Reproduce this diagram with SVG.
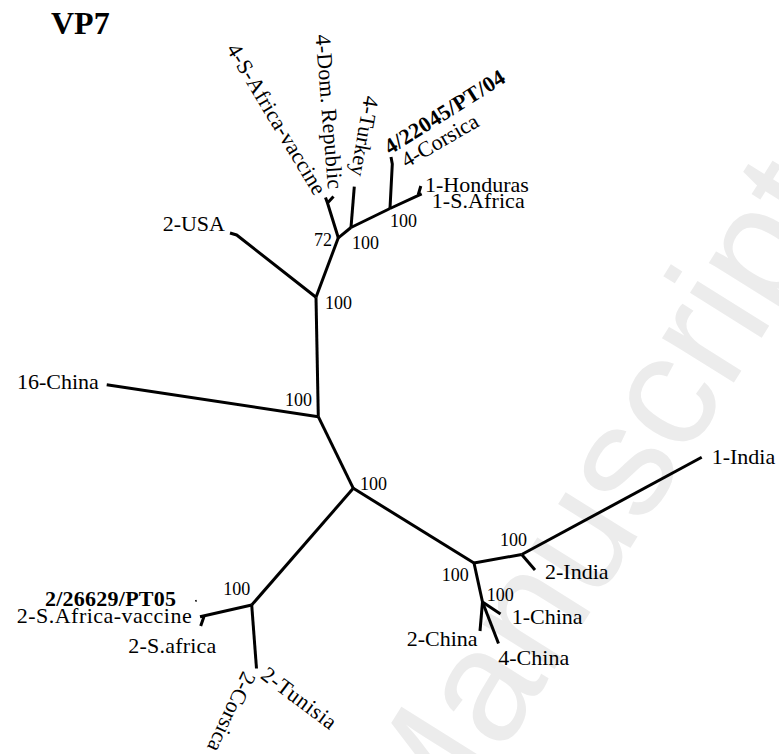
<svg xmlns="http://www.w3.org/2000/svg" width="779" height="754" viewBox="0 0 779 754">
<style>
.br{fill:none;stroke:#000;stroke-width:3;stroke-linejoin:round;stroke-linecap:butt}
.lab{font-family:"Liberation Serif","Times New Roman",serif;font-size:22px;fill:#000}
.bs{font-family:"Liberation Serif","Times New Roman",serif;font-size:18px;fill:#000}
.b{font-weight:bold}
.wm{font-family:"Liberation Sans",Arial,sans-serif;font-size:160px;fill:#ececec}
</style>
<rect width="779" height="754" fill="#fff"/>
<g id="watermark"><text class="wm" transform="translate(431,867) rotate(-58)">Manuscript</text></g>
<g id="title"><text class="lab b" x="51" y="34" style="font-size:32px">VP7</text></g>
<g id="branches">
<path class="br" d="M230,233 L236.7,235 L316,297.3"/>
<path class="br" d="M316,297.3 L338.3,237.8"/>
<path class="br" d="M338.3,237.8 L327.5,203 L325.5,197.5 M327.5,203 L333.5,196.5"/>
<path class="br" d="M338.3,237.8 L351,227.5"/>
<path class="br" d="M351,227.5 L354.3,186.7"/>
<path class="br" d="M351,227.5 L390,208.5"/>
<path class="br" d="M390,208.5 L392.3,164 L391,157"/>
<path class="br" d="M390,208.5 L421.7,193.8 M418.3,194.5 L420.8,186"/>
<path class="br" d="M316,297.3 L318.3,416.7"/>
<path class="br" d="M106.7,384.7 L318.3,416.7"/>
<path class="br" d="M318.3,416.7 L353.3,488.3"/>
<path class="br" d="M353.3,488.3 L251.7,605"/>
<path class="br" d="M251.7,605 L200,616.7 M204,616.5 L200.7,626"/>
<path class="br" d="M195.6,600 L196.4,601.6" style="stroke-width:1.5"/>
<path class="br" d="M251.7,605 L256.5,668.5"/>
<path class="br" d="M353.3,488.3 L474,563"/>
<path class="br" d="M474,563 L521.7,554.5"/>
<path class="br" d="M521.7,554.5 L701.7,457.3"/>
<path class="br" d="M521.7,554.5 L535,570"/>
<path class="br" d="M474,563 L482.5,602"/>
<path class="br" d="M482.5,602 L500.5,614"/>
<path class="br" d="M482.5,602 L480,631"/>
<path class="br" d="M482.5,602 L498.5,643.5"/>
</g>
<g id="leaf-2-USA"><text class="lab" x="225" y="231" text-anchor="end">2-USA</text></g>
<g id="leaf-16-China"><text class="lab" x="17" y="389">16-China</text></g>
<g id="leaf-4-S-Africa-vaccine"><text class="lab" transform="translate(225.9,49.1) rotate(59)" textLength="172" lengthAdjust="spacing">4-S-Africa-vaccine</text></g>
<g id="leaf-4-Dom-Republic"><text class="lab" transform="translate(315.6,35.1) rotate(85.4)" textLength="155" lengthAdjust="spacing">4-Dom. Republic</text></g>
<g id="leaf-4-Turkey"><text class="lab" transform="translate(364.5,95) rotate(100)">4-Turkey</text></g>
<g id="leaf-4-22045-PT-04"><text class="lab b" transform="translate(390,154.9) rotate(-32.2)" textLength="138" lengthAdjust="spacing">4/22045/PT/04</text></g>
<g id="leaf-4-Corsica"><text class="lab" transform="translate(406.4,168.3) rotate(-30)">4-Corsica</text></g>
<g id="leaf-1-Honduras"><text class="lab" x="425" y="192">1-Honduras</text></g>
<g id="leaf-1-S-Africa"><text class="lab" x="431.7" y="208" textLength="93" lengthAdjust="spacing">1-S.Africa</text></g>
<g id="leaf-1-India"><text class="lab" x="711.7" y="464">1-India</text></g>
<g id="leaf-2-India"><text class="lab" x="545" y="579">2-India</text></g>
<g id="leaf-1-China"><text class="lab" x="511.7" y="624">1-China</text></g>
<g id="leaf-2-China"><text class="lab" x="406.7" y="646">2-China</text></g>
<g id="leaf-4-China"><text class="lab" x="498.3" y="665">4-China</text></g>
<g id="leaf-2-26629-PT05"><text class="lab b" x="45" y="606" textLength="131" lengthAdjust="spacing">2/26629/PT05</text></g>
<g id="leaf-2-S-Africa-vaccine"><text class="lab" x="16.7" y="623" textLength="175" lengthAdjust="spacing">2-S.Africa-vaccine</text></g>
<g id="leaf-2-S-africa"><text class="lab" x="128.3" y="653" textLength="88" lengthAdjust="spacing">2-S.africa</text></g>
<g id="leaf-2-Tunisia"><text class="lab" transform="translate(259.5,677.5) rotate(37)" textLength="88" lengthAdjust="spacing">2-Tunisia</text></g>
<g id="leaf-2-Corsica"><text class="lab" transform="translate(243,670.2) rotate(115)">2-Corsica</text></g>
<g id="bootstrap">
<text class="bs" x="325" y="309">100</text>
<text class="bs" x="285" y="406">100</text>
<text class="bs" x="314" y="246">72</text>
<text class="bs" x="352" y="249">100</text>
<text class="bs" x="390" y="227">100</text>
<text class="bs" x="360" y="490">100</text>
<text class="bs" x="223.3" y="595">100</text>
<text class="bs" x="500" y="546">100</text>
<text class="bs" x="441.7" y="581">100</text>
<text class="bs" x="486.7" y="601">100</text>
</g>
</svg>
